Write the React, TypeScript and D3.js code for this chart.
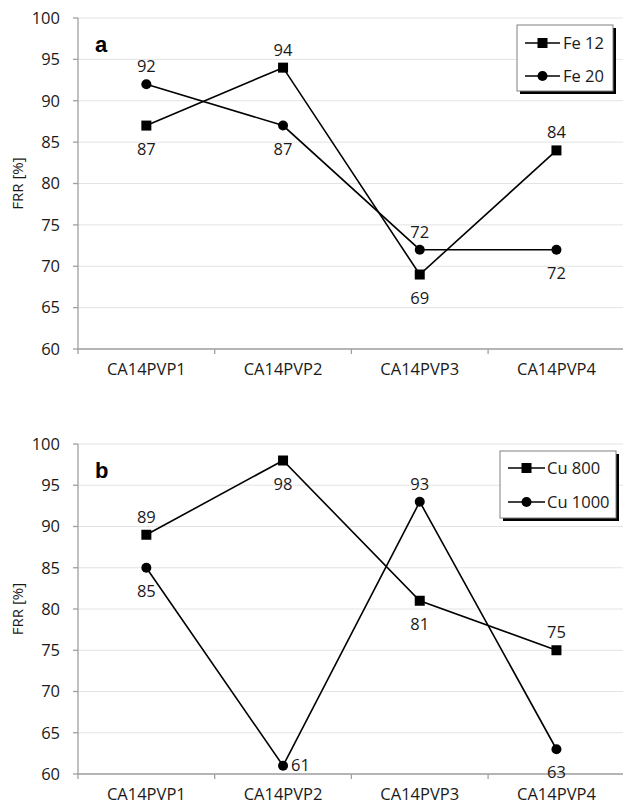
import React from "react";
import * as d3 from "d3";

const categories = ["CA14PVP1", "CA14PVP2", "CA14PVP3", "CA14PVP4"];
const yTicks = [60, 65, 70, 75, 80, 85, 90, 95, 100];

const fe12 = [87, 94, 69, 84];
const fe20 = [92, 87, 72, 72];
const cu800 = [89, 98, 81, 75];
const cu1000 = [85, 61, 93, 63];

// label placement: "a" above, "b" below, "r" right
const fe12Pos = ["b", "a", "b", "a"];
const fe20Pos = ["a", "b", "a", "b"];
const cu800Pos = ["a", "b", "b", "a"];
const cu1000Pos = ["b", "r", "a", "b"];

const FONT = "'Open Sans', sans-serif";
const FS = 16.5;

type Series = { name: string; values: number[]; marker: "square" | "circle"; pos: string[] };

function Panel(props: {
  top: number;
  bottom: number;
  letter: string;
  series: Series[];
  legend: { x: number; y: number; w: number; h: number; lineX0: number; lineX1: number; textX: number; rows: number[] };
}) {
  const { top, bottom, letter, series, legend } = props;
  const left = 78;
  const bandW = 136.7;
  const x = d3.scaleBand<string>().domain(categories).range([left, left + bandW * 4]).padding(0);
  const y = d3.scaleLinear().domain([60, 100]).range([bottom, top]);
  const line = d3
    .line<number>()
    .x((_, i) => (x(categories[i]) as number) + x.bandwidth() / 2)
    .y((d) => y(d));
  const cx = (i: number) => (x(categories[i]) as number) + x.bandwidth() / 2;

  const marker = (m: string, px: number, py: number, key: string) =>
    m === "square" ? (
      <rect key={key} x={px - 5} y={py - 5} width={10} height={10} fill="#000" />
    ) : (
      <circle key={key} cx={px} cy={py} r={5} fill="#000" />
    );

  return (
    <g>
      {yTicks.map((t) => (
        <line key={"g" + t} x1={left} x2={623} y1={y(t)} y2={y(t)} stroke="#e3e3e3" strokeWidth={1} />
      ))}
      <line x1={left} x2={left} y1={top} y2={bottom} stroke="#a0a0a0" strokeWidth={1.3} />
      {yTicks.map((t) => (
        <g key={"yt" + t}>
          <line x1={left - 5} x2={left} y1={y(t)} y2={y(t)} stroke="#a0a0a0" strokeWidth={1.3} />
          <text x={left - 18} y={y(t)} dy="0.35em" textAnchor="end" fontSize={FS} fontFamily={FONT} fill="#1a1a1a">
            {t}
          </text>
        </g>
      ))}
      <line x1={left} x2={623} y1={bottom} y2={bottom} stroke="#a0a0a0" strokeWidth={1.3} />
      {categories.map((c, i) => (
        <g key={"xt" + c}>
          <line x1={x(c) as number} x2={x(c) as number} y1={bottom} y2={bottom + 5} stroke="#a0a0a0" strokeWidth={1.3} />
          <text x={cx(i)} y={bottom + 26} textAnchor="middle" fontSize={FS} fontFamily={FONT} fill="#1a1a1a">
            {c}
          </text>
        </g>
      ))}
      <text
        transform={`translate(${23},${(top + bottom) / 2}) rotate(-90)`}
        textAnchor="middle"
        fontSize={15}
        fontFamily={FONT}
        fill="#1a1a1a"
      >
        FRR [%]
      </text>
      <text x={95} y={top + 34} fontSize={22} fontWeight="bold" fontFamily="'Liberation Sans', Arial, sans-serif" fill="#000">
        {letter}
      </text>
      {series.map((s) => (
        <g key={s.name}>
          <path d={line(s.values) as string} fill="none" stroke="#000" strokeWidth={1.6} />
          {s.values.map((v, i) => marker(s.marker, cx(i), y(v), s.name + i))}
          {s.values.map((v, i) => {
            const p = s.pos[i];
            const px = p === "r" ? cx(i) + 8 : cx(i);
            const py = p === "a" ? y(v) - 12 : p === "b" ? y(v) + 29 : y(v) + 5;
            return (
              <text
                key={s.name + "l" + i}
                x={px}
                y={py}
                textAnchor={p === "r" ? "start" : "middle"}
                fontSize={FS}
                fontFamily={FONT}
                fill="#1a1a1a"
              >
                {v}
              </text>
            );
          })}
        </g>
      ))}
      <rect x={legend.x + 3} y={legend.y + 3} width={legend.w} height={legend.h} fill="#000" />
      <rect x={legend.x} y={legend.y} width={legend.w} height={legend.h} fill="#fff" stroke="#808080" strokeWidth={1} />
      {series.map((s, k) => {
        const ry = legend.rows[k];
        const mx = (legend.lineX0 + legend.lineX1) / 2;
        return (
          <g key={"lg" + s.name}>
            <line x1={legend.lineX0} x2={legend.lineX1} y1={ry} y2={ry} stroke="#000" strokeWidth={1.6} />
            {marker(s.marker, mx, ry, "lm" + k)}
            <text x={legend.textX} y={ry} dy="0.35em" fontSize={FS} fontFamily={FONT} fill="#1a1a1a">
              {s.name}
            </text>
          </g>
        );
      })}
    </g>
  );
}

export default function App() {
  return (
    <svg width={623} height={807} style={{ position: "absolute", left: 0, top: 0, background: "#fff" }}>
      <rect width={623} height={807} fill="#fff" />
      <Panel
        top={18}
        bottom={349}
        letter="a"
        series={[
          { name: "Fe 12", values: fe12, marker: "square", pos: fe12Pos },
          { name: "Fe 20", values: fe20, marker: "circle", pos: fe20Pos },
        ]}
        legend={{ x: 517, y: 25, w: 96, h: 66, lineX0: 525, lineX1: 560, textX: 563, rows: [43, 76] }}
      />
      <Panel
        top={444}
        bottom={774}
        letter="b"
        series={[
          { name: "Cu 800", values: cu800, marker: "square", pos: cu800Pos },
          { name: "Cu 1000", values: cu1000, marker: "circle", pos: cu1000Pos },
        ]}
        legend={{ x: 500, y: 451, w: 116, h: 67, lineX0: 508, lineX1: 545, textX: 547, rows: [468, 502] }}
      />
    </svg>
  );
}
